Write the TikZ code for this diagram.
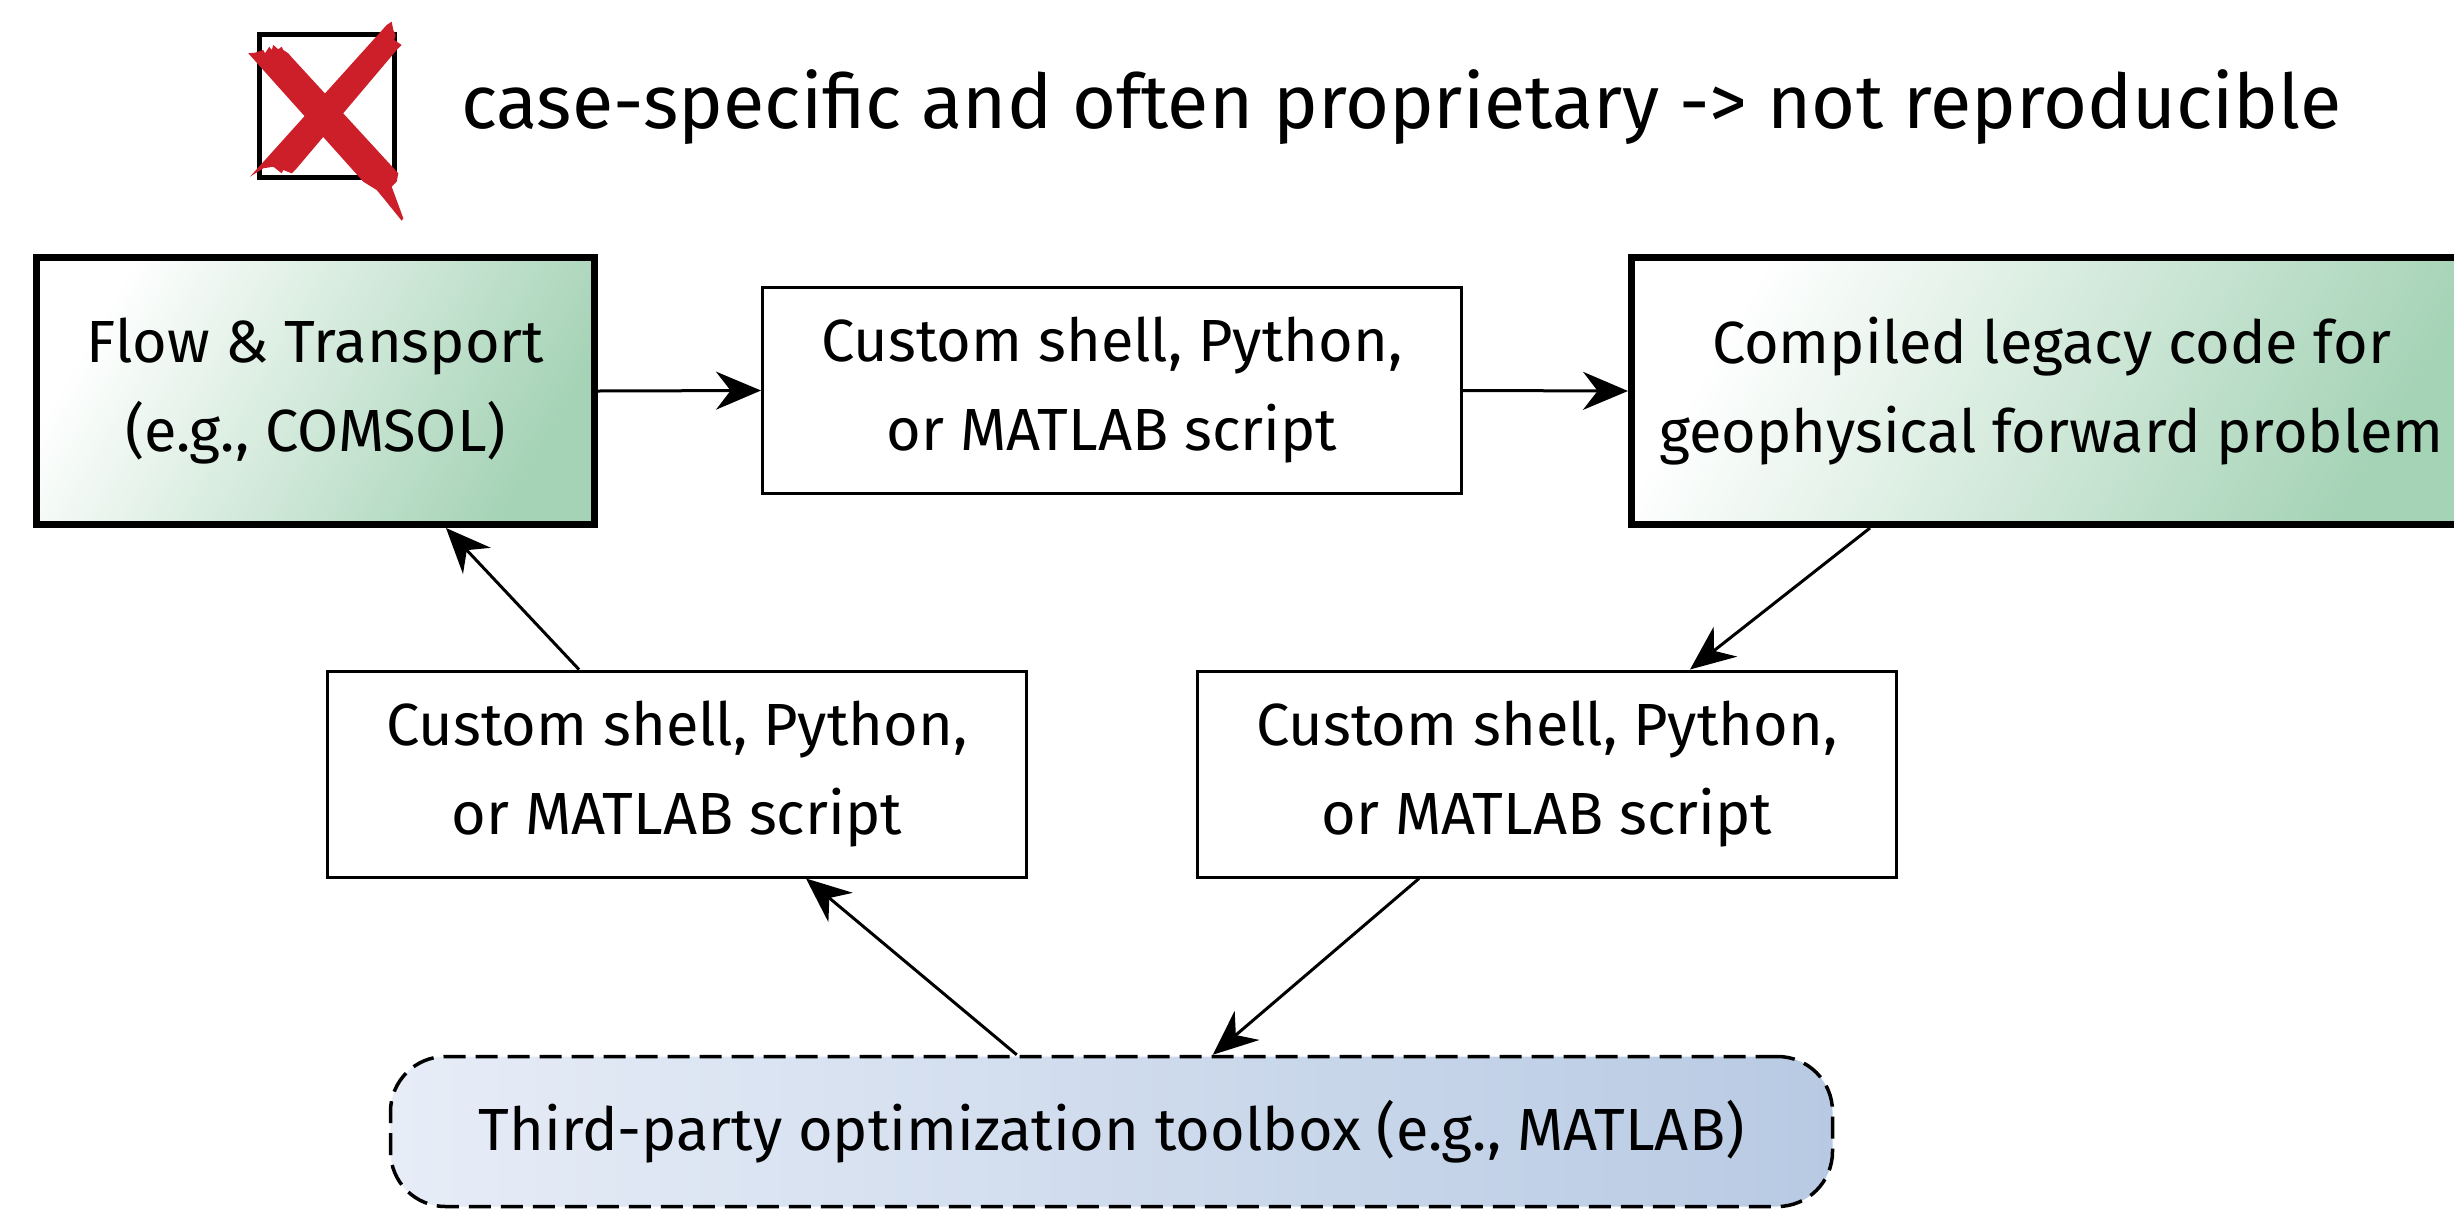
\documentclass[tikz,border=0pt]{standalone}
\usepackage{fontspec}
\setmainfont{Fira Sans}
\usetikzlibrary{arrows.meta,calc}

\definecolor{boxgreen}{RGB}{165,211,182}
\definecolor{toolblueL}{RGB}{231,237,247}
\definecolor{toolblueR}{RGB}{184,202,227}
\definecolor{crossred}{RGB}{204,31,41}

\begin{document}
\begin{tikzpicture}[x=1pt,y=-1pt,
  every node/.style={inner sep=0pt, align=center, font=\fontsize{59.5}{89}\selectfont},
  model/.style={draw, line width=7pt, minimum width=558pt, minimum height=267pt,
    top color=white, bottom color=boxgreen, shading angle=60},
  script/.style={draw, line width=3pt, fill=white, minimum width=699pt, minimum height=206pt},
  toolbox/.style={draw, dash pattern=on 22pt off 10pt, line width=3.5pt, rounded corners=55pt,
    left color=toolblueL, right color=toolblueR, minimum width=1442pt, minimum height=150pt},
  flow/.style={-{Stealth[length=45pt,width=38pt]}, line width=3pt}
]
\useasboundingbox (0,0) rectangle (2454,1210);

% crossed-out checkbox
\node[draw, line width=5pt, minimum width=135pt, minimum height=143pt] (chk) at (327,106) {};
\fill[crossred] (248.3,53.3) -- (255,52.7) -- (263.3,50) -- (265,53.3) -- (269.3,46.7) -- (271.7,50)
  -- (273.3,45) -- (278.3,49.3) -- (281.7,46.7) -- (283.3,50) -- (288.3,53.3) -- (291.7,57.3)
  -- (398.3,173.3) -- (396.7,181.7) -- (391.7,186.7) -- (403.3,218.3) -- (401.7,220.7)
  -- (385,200) -- (376.7,190) -- (363.3,181.7) -- cycle;
\fill[crossred] (386.7,25) -- (391.7,21.7) -- (393.3,30) -- (395.7,35) -- (394.3,40) -- (401.7,45)
  -- (396.7,50) -- (296.7,168.3) -- (291.7,173.3) -- (283.3,170) -- (281.7,173.3) -- (273.3,166.7)
  -- (263.3,168.3) -- (250,176.7) -- cycle;

\node[anchor=base west, font=\fontsize{75.5}{90}\selectfont] (title) at (461,128)
  {case-specific and often proprietary -> not reproducible};

% boxes
\node[model] (A) at (315.5,391) {Flow \& Transport\\(e.g., COMSOL)};
\node[script] (B) at (1112,390.5) {Custom shell, Python,\\or MATLAB script};
\node[model, minimum width=840pt] (C) at (2051.5,391) {Compiled legacy code for\\geophysical forward problem};
\node[script] (D) at (677,774) {Custom shell, Python,\\or MATLAB script};
\node[script] (E) at (1547,774) {Custom shell, Python,\\or MATLAB script};
\node[toolbox] (T) at (1111.5,1131.5) {Third-party optimization toolbox (e.g., MATLAB)};

% connectors
\draw[flow] (A.east) -- (B.west);
\draw[flow] (B.east) -- (C.west);
\draw[flow] ([xshift=242pt]C.south west) -- ([xshift=494pt]E.north west);
\draw[flow] ([xshift=223pt]E.south west) -- ([xshift=824pt]T.north west);
\draw[flow] ([xshift=628pt]T.north west) -- ([xshift=480pt]D.south west);
\draw[flow] ([xshift=253pt]D.north west) -- ([xshift=413pt]A.south west);
\end{tikzpicture}
\end{document}
